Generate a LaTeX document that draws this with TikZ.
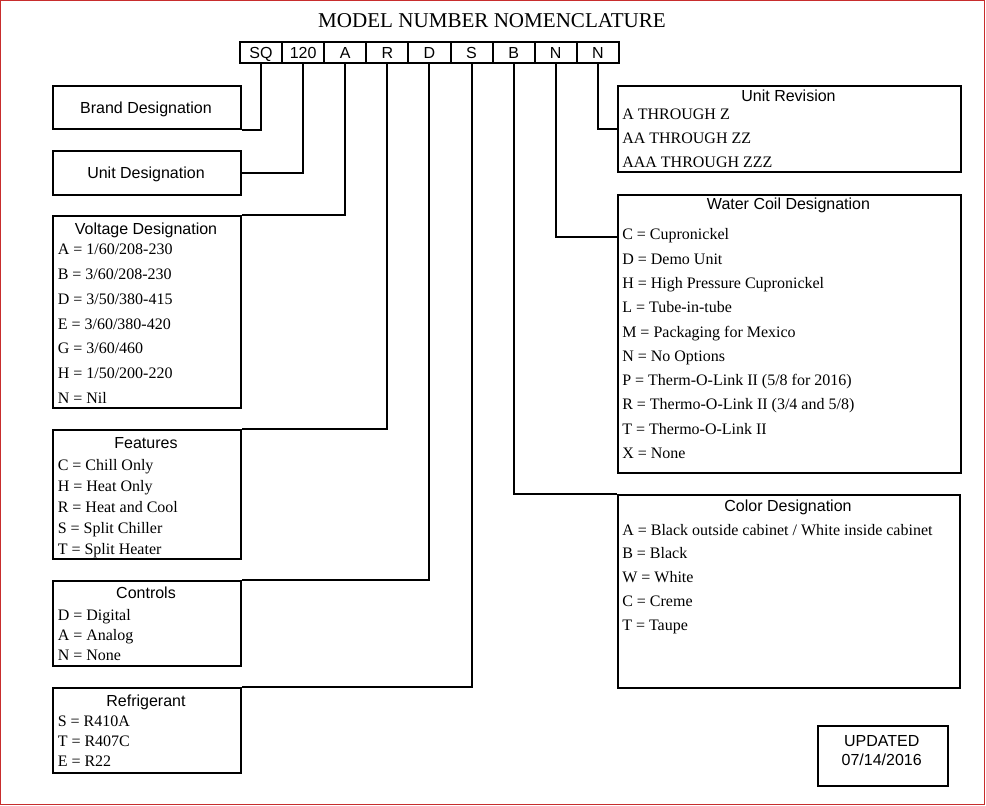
\documentclass[tikz,border=0pt]{standalone}
\usepackage{fontspec}
\setmainfont{Liberation Serif}
\setsansfont{Liberation Sans}
\usetikzlibrary{calc}

\definecolor{framered}{RGB}{200,45,45}

\tikzset{
  frame/.style={draw=framered, line width=1.2pt},
  box/.style={draw, line width=1.5pt, inner sep=0pt, anchor=north west},
  boxsize/.style 2 args={minimum width=#1*0.75pt, minimum height=#2*0.75pt},
  codebox/.style={box, boxsize={42.1}{21}, text height=8.6pt, text depth=0pt,
    font=\sffamily\fontsize{12}{14}\selectfont},
  link/.style={line width=1.5pt},
  head/.style={anchor=base, inner sep=0pt, font=\sffamily\fontsize{12}{14}\selectfont},
  item/.style={anchor=base west, inner sep=0pt, font=\fontsize{12}{14}\selectfont},
}

\begin{document}
\begin{tikzpicture}[x=0.75pt, y=-0.75pt]
  \useasboundingbox (0,0) rectangle (986,806);
  \draw [frame] (0.6,0.6) rectangle (984.4,804.6);

  %% title and code row
  \node [anchor=base, inner sep=0pt, font=\fontsize{15.8}{18}\selectfont] (title) at (492,27.3) {MODEL NUMBER NOMENCLATURE};
  \foreach \t/\n [count=\i from 0] in {SQ/sq, 120/c120, A/ca, R/cr, D/cd, S/cs, B/cb, N/cn, N/cm}
    \node [codebox] (\n) at (239+42.1*\i,41) {\t};

  %% left column
  \node [box, boxsize={188}{43}] (brand) at (52,85) {};
  \node [head] at (146,113.3) {Brand Designation};
  \node [box, boxsize={188}{44}] (unit) at (52,150) {};
  \node [head] at (146,179) {Unit Designation};

  \node [box, boxsize={188}{191}] (volt) at (52,215.5) {};
  \node [head] at (146,234) {Voltage Designation};
  \foreach \t [count=\i from 0] in {{A = 1/60/208-230}, {B = 3/60/208-230}, {D = 3/50/380-415},
      {E = 3/60/380-420}, {G = 3/60/460}, {H = 1/50/200-220}, {N = Nil}}
    \node [item] at (57.5,255+24.67*\i) {\t};

  \node [box, boxsize={188}{129}] (feat) at (52,429) {};
  \node [head] at (146,448) {Features};
  \foreach \t [count=\i from 0] in {{C = Chill Only}, {H = Heat Only}, {R = Heat and Cool},
      {S = Split Chiller}, {T = Split Heater}}
    \node [item] at (57.5,470+21.2*\i) {\t};

  \node [box, boxsize={188}{85}] (ctrl) at (52,580) {};
  \node [head] at (146,598) {Controls};
  \foreach \t [count=\i from 0] in {{D = Digital}, {A = Analog}, {N = None}}
    \node [item] at (57.5,620+20.4*\i) {\t};

  \node [box, boxsize={188}{85}] (refr) at (52,687) {};
  \node [head] at (146,706) {Refrigerant};
  \foreach \t [count=\i from 0] in {{S = R410A}, {T = R407C}, {E = R22}}
    \node [item] at (57.5,726.7+20*\i) {\t};

  %% right column
  \node [box, boxsize={343}{86}] (rev) at (617,85) {};
  \node [head] at (788.5,101.7) {Unit Revision};
  \foreach \t [count=\i from 0] in {{A THROUGH Z}, {AA THROUGH ZZ}, {AAA THROUGH ZZZ}}
    \node [item] at (622,120+23.65*\i) {\t};

  \node [box, boxsize={343}{278}] (coil) at (617,194) {};
  \node [head] at (788.5,209.3) {Water Coil Designation};
  \foreach \t [count=\i from 0] in {{C = Cupronickel}, {D = Demo Unit}, {H = High Pressure Cupronickel},
      {L = Tube-in-tube}, {M = Packaging for Mexico}, {N = No Options},
      {P = Therm-O-Link II (5/8 for 2016)}, {R = Thermo-O-Link II (3/4 and 5/8)},
      {T = Thermo-O-Link II}, {X = None}}
    \node [item] at (622,240+24.26*\i) {\t};
  \coordinate (coiltap) at ($(coil.north west)+(0,43)$);

  \node [box, boxsize={342}{193}] (color) at (617,494) {};
  \node [head] at (788,511.7) {Color Designation};
  \foreach \t [count=\i from 0] in {{A = Black outside cabinet / White inside cabinet}, {B = Black},
      {W = White}, {C = Creme}, {T = Taupe}}
    \node [item] at (622,535+23.9*\i) {\t};

  \node [box, boxsize={130}{60}] (upd) at (817,724.5) {};
  \node [head] at (881.7,746) {UPDATED};
  \node [head] at (881.7,765.7) {07/14/2016};

  %% connectors
  \draw [link] (sq.south) |- (brand.south east);
  \draw [link] (c120.south) |- (unit.east);
  \draw [link] (ca.south) |- (volt.north east);
  \draw [link] (cr.south) |- (feat.north east);
  \draw [link] (cd.south) |- (ctrl.north east);
  \draw [link] (cs.south) |- (refr.north east);
  \draw [link] (cb.south) |- (color.north west);
  \draw [link] (cn.south) |- (coiltap);
  \draw [link] (cm.south) |- (rev.west);
\end{tikzpicture}
\end{document}
